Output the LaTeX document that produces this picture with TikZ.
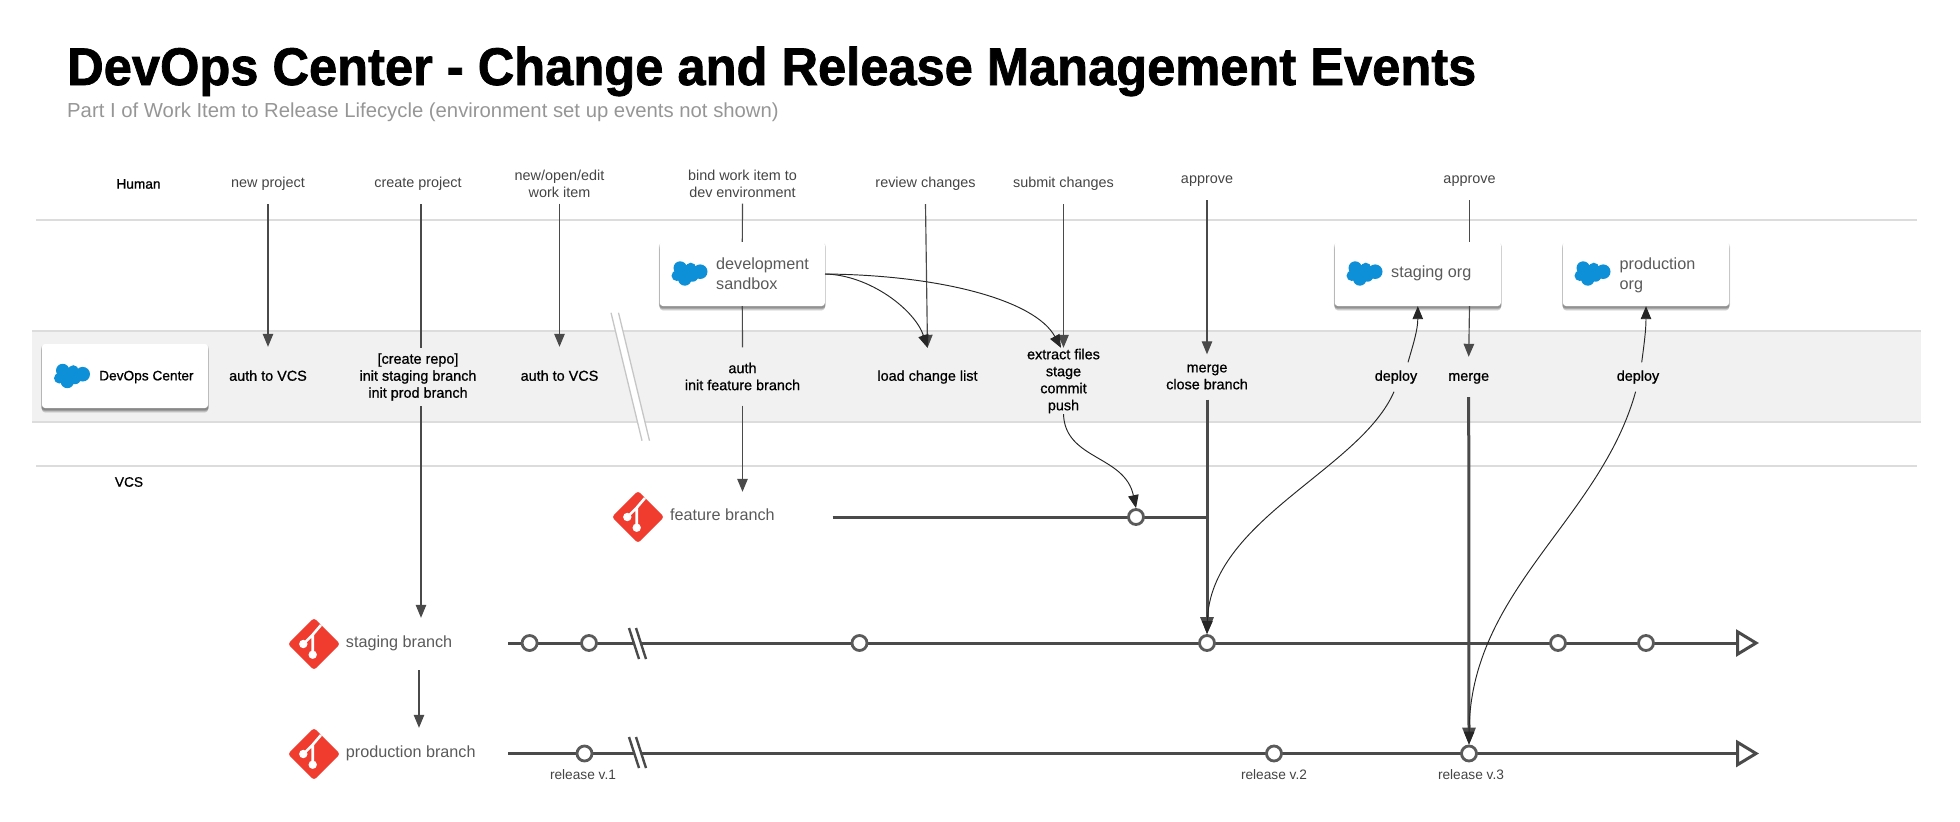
\documentclass[tikz,border=0pt]{standalone}
\usepackage{fontspec}
\usetikzlibrary{arrows.meta,shadows}
\setmainfont{Liberation Sans}
\newfontfamily\medfont[FakeBold=0.8]{Liberation Sans}
\newfontfamily\heavyfont[FakeBold=1.4,FakeStretch=0.955]{Liberation Sans Bold}
\definecolor{flowgray}{RGB}{74,74,74}
\definecolor{lanegray}{RGB}{220,220,220}
\definecolor{bandgray}{RGB}{241,241,241}
\definecolor{labelgray}{RGB}{68,68,68}
\definecolor{cardgray}{RGB}{90,90,90}
\definecolor{subgray}{RGB}{150,150,150}
\definecolor{sfblue}{RGB}{13,144,215}
\definecolor{gitred}{RGB}{240,60,46}

\begin{document}
\begin{tikzpicture}[
    x=1pt,y=-1pt,
    >={Triangle[length=13pt,width=10.5pt]},
    oneline/.style={text height=10.5pt,text depth=3pt},
    humanlabel/.style={inner sep=0,minimum height=40pt,align=center,text=labelgray,font=\fontsize{14.4}{17}\selectfont},
    eventlabel/.style={inner sep=0,align=center,text=black,font=\fontsize{14.4}{17}\medfont},
    softshade/.style={general shadow={fill=black,opacity=#1,shadow xshift=0pt,shadow yshift=-1.5pt,shadow scale=1.012},
        general shadow={fill=black,opacity=#1,shadow xshift=0pt,shadow yshift=-2.5pt,shadow scale=1.008},
        general shadow={fill=black,opacity=#1,shadow xshift=0pt,shadow yshift=-3.5pt,shadow scale=1.004},
        general shadow={fill=black,opacity=#1,shadow xshift=0pt,shadow yshift=-4.5pt,shadow scale=1}},
    cardbox/.style={fill=white,rounded corners=3pt,minimum width=166pt,minimum height=64pt,inner sep=0,softshade=0.13},
    cardtext/.style={anchor=west,inner sep=0,align=left,text=cardgray,font=\fontsize{16.2}{20}\selectfont},
    branchname/.style={anchor=west,inner sep=0,minimum height=50pt,text=cardgray,font=\fontsize{16.2}{20}\selectfont},
    releaselabel/.style={inner sep=0,text=labelgray,font=\fontsize{13.7}{17}\selectfont},
    commit/.style={circle,draw=cardgray,fill=white,line width=2.8pt,minimum size=15pt,inner sep=0},
    flow/.style={->,draw=flowgray,line width=1.15pt},
    plainflow/.style={draw=flowgray,line width=1.15pt},
    curveflow/.style={->,draw=black!85,line width=0.95pt},
    heavyflow/.style={-{Triangle[length=17pt,width=13pt]},draw=flowgray,line width=3pt},
    branchline/.style={draw=flowgray,line width=3pt},
    mainline/.style={branchline,-{Triangle[open,length=23pt,width=27pt,line width=3pt]}},
    breakmark/.style={draw=flowgray,line width=2.4pt},
    laneline/.style={draw=lanegray,line width=1.5pt},
    sfcloud/.pic={
        \fill[sfblue] (-9.3,-6) circle (6.7) (1.3,-6) circle (5.3) (10.7,-2.3) circle (7.3)
            (-4.7,5) circle (6.7) (-12.7,1.7) circle (5.3) (3,1.7) circle (6)
            (-3,-1) circle (8) (4,-1) circle (6);
    },
    gitmark/.pic={
        \fill[gitred,rounded corners=3pt,rotate=45] (-18.5,-18.5) rectangle (18.5,18.5);
        \draw[white,line width=2.6pt] (7,-19) -- (-1.3,-9.3) -- (-1.3,10.7) (-1.3,-9.3) -- (-10.7,0);
        \fill[white] (-1.3,10.7) circle (4.2) (-10.7,0) circle (4.2);
    }
]
\useasboundingbox (0,0) rectangle (1960,822);

% Title
\node[anchor=base west,inner sep=0,text=black,font=\fontsize{53}{60}\heavyfont] (title) at (67,85) {DevOps Center - Change and Release Management Events};
\node[anchor=west,inner sep=0,text=subgray,font=\fontsize{20.3}{24}\selectfont] (subtitle) at (67,112) {Part I of Work Item to Release Lifecycle (environment set up events not shown)};

% Lanes
\node[fill=bandgray,inner sep=0,minimum width=1889pt,minimum height=91pt] (band) at (976.5,376.5) {};
\draw[laneline] (36,220) -- (1917,220);
\draw[laneline] (band.north west) -- (band.north east);
\draw[laneline] (band.south west) -- (band.south east);
\draw[laneline] (36,466) -- (1917,466);
\fill[white] (611,312.7) -- (618.5,312.7) -- (649.5,440.7) -- (642,440.7) -- cycle;
\draw[lanegray!90!black,line width=1.3pt] (611,312.7) -- (642,440.7);
\draw[lanegray!90!black,line width=1.3pt] (618.5,312.7) -- (649.5,440.7);
\node[inner sep=0,text=black,font=\fontsize{13.7}{17}\medfont] (human) at (138.5,184) {Human};
\node[inner sep=0,text=black,font=\fontsize{13.7}{17}\medfont] (vcs) at (129,482) {VCS};

% Human events
\node[humanlabel,oneline] (newproject) at (268,184) {new project};
\node[humanlabel,oneline] (createproject) at (418,184) {create project};
\node[humanlabel] (newwork) at (559.5,183.5) {new/open/edit\\work item};
\node[humanlabel] (bindwork) at (742.5,183.5) {bind work item to\\dev environment};
\node[humanlabel,oneline] (reviewchanges) at (925.5,184) {review changes};
\node[humanlabel,oneline] (submitchanges) at (1063.5,184) {submit changes};
\node[humanlabel,oneline] (approveone) at (1207,180) {approve};
\node[humanlabel,oneline] (approvetwo) at (1469.5,180) {approve};

% Org cards
\node[cardbox] (devopscard) at (125,376) {};
\pic at (72,376.5) {sfcloud};
\node[inner sep=0,anchor=west,text=black,font=\fontsize{13.7}{17}\medfont] (devopstext) at (99,377) {DevOps Center};
\node[cardbox,minimum width=165pt] (devbox) at (742.3,274) {};
\pic at (689.5,274) {sfcloud};
\node[cardtext] (devtext) at (716,274) {development\\sandbox};
\node[cardbox] (stagingorg) at (1417.8,274) {};
\pic at (1364.5,274) {sfcloud};
\node[cardtext,oneline] (stagingtext) at (1391,274) {staging org};
\node[cardbox] (prodorg) at (1646,274) {};
\pic at (1592.5,274) {sfcloud};
\node[cardtext] (prodtext) at (1619.5,275) {production\\org};

% Band events
\node[eventlabel,oneline,minimum height=60pt] (authone) at (268,377) {auth to VCS};
\node[eventlabel,minimum height=58pt] (repo) at (418,377) {[create repo]\\init staging branch\\init prod branch};
\node[eventlabel,oneline,minimum height=60pt] (authtwo) at (559.5,377) {auth to VCS};
\node[eventlabel,minimum height=58pt] (authfeature) at (742.5,376.5) {auth\\init feature branch};
\node[eventlabel,oneline,minimum height=58pt] (loadlist) at (927.5,377) {load change list};
\node[eventlabel,minimum height=66pt] (extract) at (1063.5,381) {extract files\\stage\\commit\\push};
\node[eventlabel,minimum height=45pt] (mergeclose) at (1207,377) {merge\\close branch};
\node[eventlabel,oneline,minimum height=29pt] (deployone) at (1396,377) {deploy};
\node[eventlabel,oneline,minimum height=40pt] (mergetwo) at (1468.7,377) {merge};
\node[eventlabel,oneline,minimum height=29pt] (deploytwo) at (1638,377) {deploy};

% Branches
\pic at (638,517) {gitmark};
\node[branchname,oneline] (featurebranch) at (670,517) {feature branch};
\pic at (314,644) {gitmark};
\node[branchname,oneline,minimum height=52pt] (stagingbranch) at (345.7,644) {staging branch};
\pic at (314,754) {gitmark};
\node[branchname,oneline,minimum height=52pt] (prodbranch) at (345.7,754) {production branch};

\coordinate (featurestart) at (832.5,517);
\coordinate (stagingstart) at (508,643);
\coordinate (stagingend) at (1759,643);
\coordinate (prodstart) at (508,753.5);
\coordinate (prodend) at (1759,753.5);

\draw[branchline] (featurestart) -- (mergeclose.south |- featurestart);
\draw[mainline] (stagingstart) -- (stagingend);
\draw[mainline] (prodstart) -- (prodend);

% Break marks
\fill[white] (629,628) -- (636,628) -- (646,659) -- (639,659) -- cycle;
\draw[breakmark] (629,628) -- (639,659);
\draw[breakmark] (636,628) -- (646,659);
\fill[white] (629,737) -- (636,737) -- (646,768) -- (639,768) -- cycle;
\draw[breakmark] (629,737) -- (639,768);
\draw[breakmark] (636,737) -- (646,768);

% Commits
\node[commit] (featurecommit) at (1136,517) {};
\node[commit] (stagingA) at (529.6,643) {};
\node[commit] (stagingB) at (589,643) {};
\node[commit] (stagingC) at (859.5,643) {};
\node[commit] (stagingD) at (1207,643) {};
\node[commit] (stagingE) at (1558,643) {};
\node[commit] (stagingF) at (1646,643) {};
\node[commit] (prodA) at (584.5,753.5) {};
\node[commit] (prodB) at (1274,753.5) {};
\node[commit] (prodC) at (1469,753.5) {};
\node[releaselabel] (releaseone) at (583,774.5) {release v.1};
\node[releaselabel] (releasetwo) at (1274,774.5) {release v.2};
\node[releaselabel] (releasethree) at (1471,774.5) {release v.3};

% Connections
\draw[flow] (newproject.south) -- (authone.north);
\draw[plainflow] ([xshift=3pt]createproject.south) -- ([xshift=3pt]repo.north);
\draw[flow] (newwork.south) -- (authtwo.north);
\draw[plainflow] (bindwork.south) -- (devbox.north);
\draw[plainflow] (devbox.south) -- (authfeature.north);
\draw[flow] (reviewchanges.south) -- (loadlist.north);
\draw[flow] (submitchanges.south) -- (extract.north);
\draw[flow] (approveone.south) -- (mergeclose.north);
\draw[plainflow] (approvetwo.south) -- (approvetwo.south |- stagingorg.north);
\draw[flow] (approvetwo.south |- stagingorg.south) -- (mergetwo.north);

\draw[curveflow] (devbox.east) .. controls (870,275) and (915,310) .. (loadlist.north);
\draw[curveflow] (devbox.east) .. controls (940,275) and (1035,300) .. ([xshift=-2.5pt]extract.north);
\draw[curveflow] (extract.south) .. controls (1065,460) and (1125,455) .. (featurecommit.north);

\draw[flow] ([xshift=3pt]repo.south) -- ([xshift=3pt]repo.south |- stagingbranch.north);
\draw[flow] ([xshift=1pt]repo.south |- stagingbranch.south) -- ([xshift=1pt]repo.south |- prodbranch.north);
\draw[flow] (authfeature.south) -- (authfeature.south |- featurebranch.north);

\draw[heavyflow] (mergeclose.south) -- (stagingD.north);
\draw[heavyflow] (mergetwo.south) -- (prodC.north);

\draw[curveflow] ([xshift=12pt]deployone.north) .. controls (1413,345) and (1417.8,330) .. (stagingorg.south);
\draw[curveflow] ([xshift=-2pt]deployone.south) .. controls (1360,470) and (1210,520) .. (stagingD.north);
\draw[curveflow] ([xshift=3.7pt]deploytwo.north) .. controls (1644,345) and (1646,330) .. (prodorg.south);
\draw[curveflow] ([xshift=-2.4pt]deploytwo.south) .. controls (1600,520) and (1470,590) .. (prodC.north);

\end{tikzpicture}
\end{document}
